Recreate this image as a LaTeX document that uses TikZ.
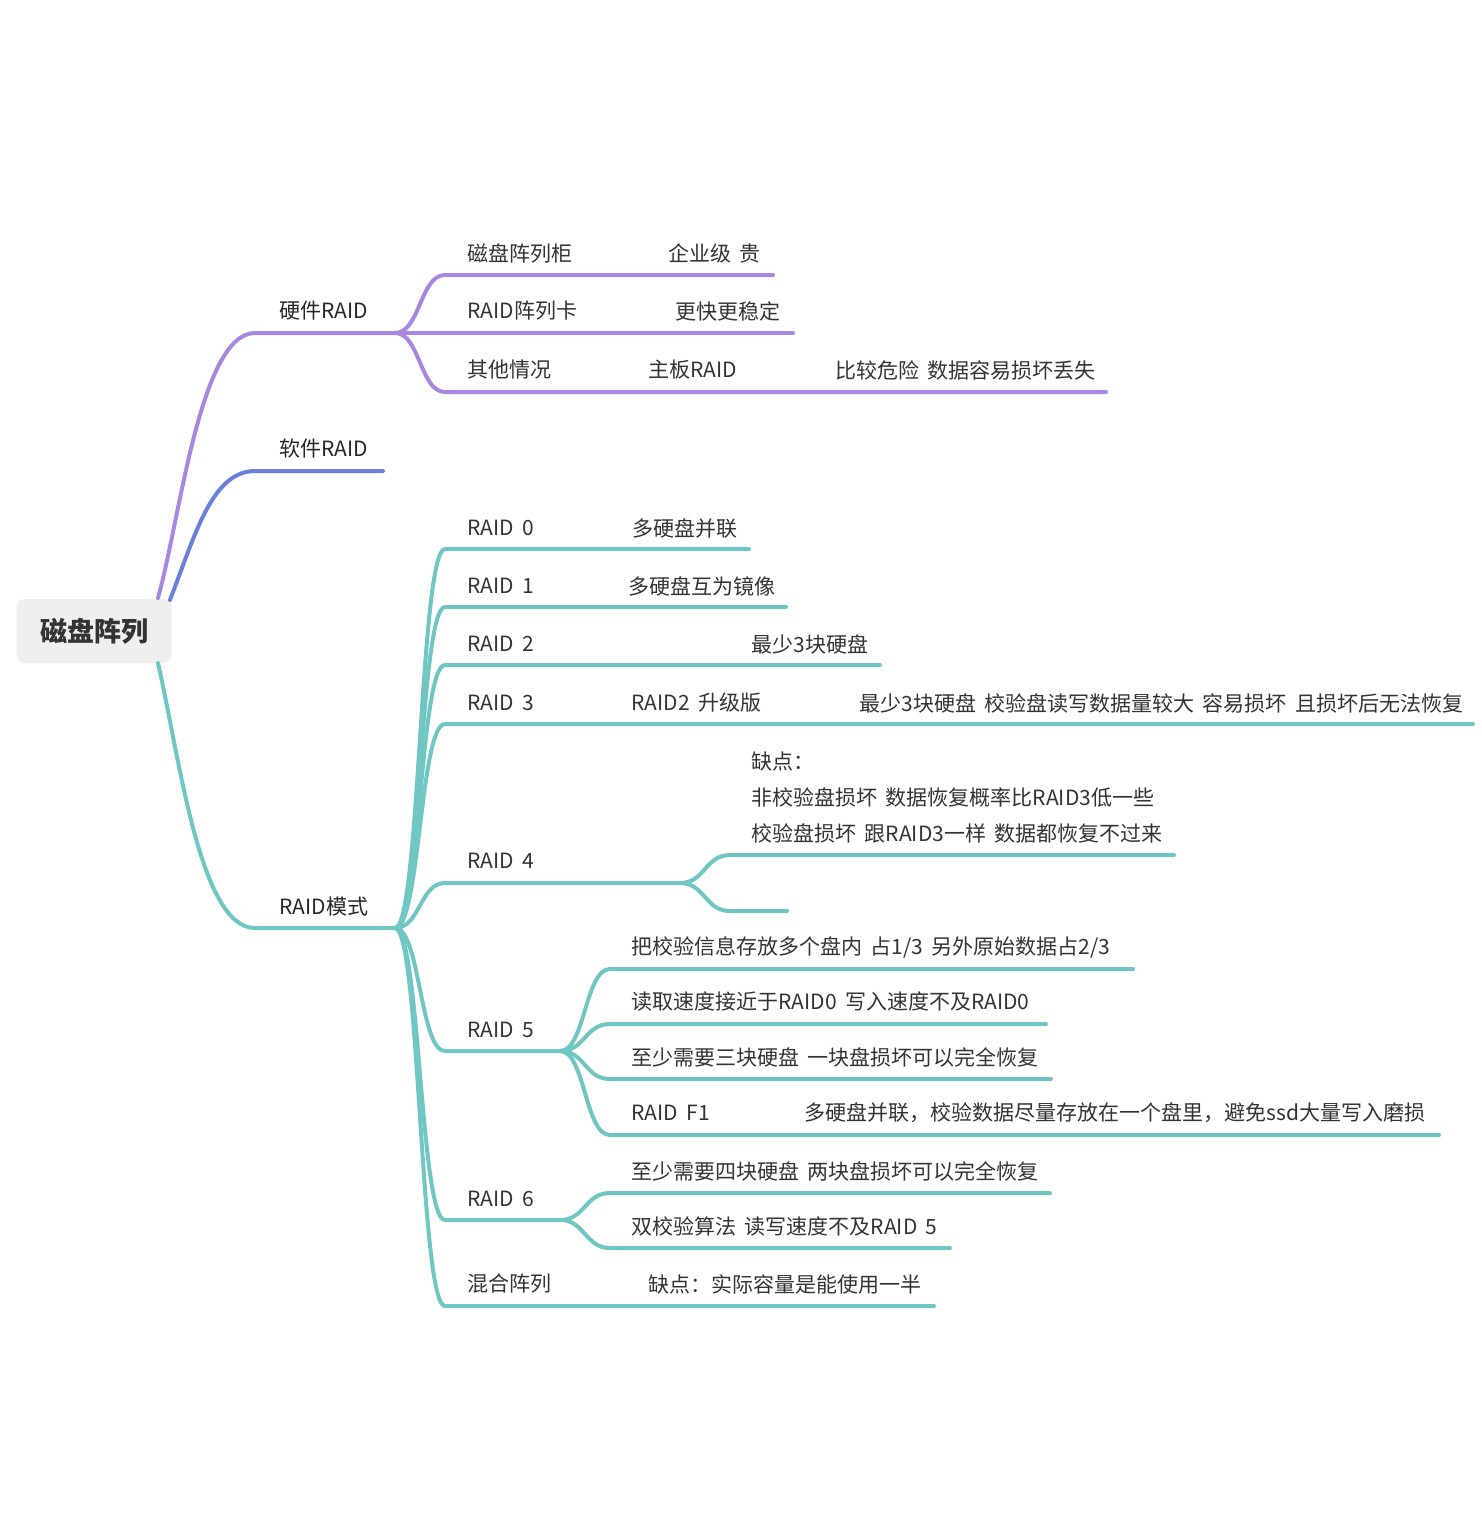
\documentclass[tikz,border=0pt]{standalone}
\usepackage{fontspec}
\setmainfont[WordSpace=1.8]{Noto Sans CJK SC}
\definecolor{pur}{HTML}{A888DF}
\definecolor{blu}{HTML}{6A80DB}
\definecolor{tea}{HTML}{6FC6C2}
\definecolor{txt}{HTML}{333333}
\definecolor{rootfill}{HTML}{EEF0EF}
\tikzset{
  lbl/.style={anchor=west, inner sep=0pt, text=txt, font=\fontsize{10.5pt}{12pt}\selectfont},
  toplbl/.style={lbl, text=black!85},
  rootbox/.style={fill=rootfill, rounded corners=4pt, minimum width=77.5pt, minimum height=32pt, inner sep=0pt, text=txt, font=\fontsize{13.5pt}{16pt}\selectfont\bfseries},
  br/.style={line width=2pt, line cap=round},
}
\begin{document}
\begin{tikzpicture}[x=0.5pt,y=-0.5pt]
\useasboundingbox (0,0) rectangle (1482,1538);
% root
\node[rootbox] (root) at (94,631) {磁盘阵列};
% named points
\coordinate (pS) at (158,598);
\coordinate (bS) at (170,600);
\coordinate (tS) at (158,663);
\coordinate (hA) at (255,333); \coordinate (H) at (395,333);
\coordinate (sA) at (255,471); \coordinate (sE) at (383,471);
\coordinate (mA) at (255,928); \coordinate (M) at (395,928);
% level 1
\draw[br,pur] (pS) .. controls (180,520) and (200,333) .. (hA) -- (H);
\draw[br,blu] (bS) .. controls (195,535) and (212,471) .. (sA) -- (sE);
\draw[br,tea] (tS) .. controls (180,760) and (200,928) .. (mA) -- (M);
\node[toplbl] (hw) at (279,311) {硬件RAID};
\node[toplbl] (sw) at (279,449) {软件RAID};
\node[toplbl] (md) at (279,907) {RAID模式};
% hardware children
\coordinate (h1a) at (445,275); \coordinate (h1e) at (773,275);
\coordinate (h2e) at (793,333);
\coordinate (h3a) at (445,392); \coordinate (h3e) at (1106,392);
\draw[br,pur] (H) .. controls (420,333) and (420,275) .. (h1a) -- (h1e);
\draw[br,pur] (H) -- (h2e);
\draw[br,pur] (H) .. controls (420,333) and (420,392) .. (h3a) -- (h3e);
\node[lbl] (h1) at (467,253) {磁盘阵列柜};
\node[lbl] (h1b) at (668,253) {企业级 贵};
\node[lbl] (h2) at (467,311) {RAID阵列卡};
\node[lbl] (h2b) at (675,311) {更快更稳定};
\node[lbl] (h3) at (467,370) {其他情况};
\node[lbl] (h3b) at (648,370) {主板RAID};
\node[lbl] (h3c) at (835,370) {比较危险 数据容易损坏丢失};
% RAID mode children
\foreach \n/\y/\e in {r0/549/749, r1/607/786, r2/665/880, r3/724/1473, r7/1306/934}{
  \coordinate (\n a) at (445,\y); \coordinate (\n e) at (\e,\y);
  \draw[br,tea] (M) .. controls (420,928) and (420,\y) .. (\n a) -- (\n e);
}
\coordinate (r4a) at (445,883); \coordinate (F4) at (680,883);
\coordinate (r5a) at (445,1051); \coordinate (F5) at (560,1051);
\coordinate (r6a) at (445,1220); \coordinate (F6) at (560,1220);
\draw[br,tea] (M) .. controls (420,928) and (420,883) .. (r4a) -- (F4);
\draw[br,tea] (M) .. controls (420,928) and (420,1051) .. (r5a) -- (F5);
\draw[br,tea] (M) .. controls (420,928) and (420,1220) .. (r6a) -- (F6);
\node[lbl] (t0) at (467,528) {RAID 0};
\node[lbl] (t0b) at (632,528) {多硬盘并联};
\node[lbl] (t1) at (467,586) {RAID 1};
\node[lbl] (t1b) at (628,586) {多硬盘互为镜像};
\node[lbl] (t2) at (467,644) {RAID 2};
\node[lbl] (t2b) at (751,644) {最少3块硬盘};
\node[lbl] (t3) at (467,703) {RAID 3};
\node[lbl] (t3b) at (631,703) {RAID2 升级版};
\node[lbl] (t3c) at (859,703) {最少3块硬盘 校验盘读写数据量较大 容易损坏 且损坏后无法恢复};
\node[lbl] (t4) at (467,861) {RAID 4};
\node[lbl] (t5) at (467,1030) {RAID 5};
\node[lbl] (t6) at (467,1199) {RAID 6};
\node[lbl] (t7) at (467,1284) {混合阵列};
\node[lbl] (t7b) at (648,1284) {缺点：实际容量是能使用一半};
% RAID 4 sub
\coordinate (r41a) at (730,855); \coordinate (r41e) at (1174,855);
\coordinate (r42a) at (730,911); \coordinate (r42e) at (787,911);
\draw[br,tea] (F4) .. controls (705,883) and (705,855) .. (r41a) -- (r41e);
\draw[br,tea] (F4) .. controls (705,883) and (705,911) .. (r42a) -- (r42e);
\node[lbl, align=left, font=\fontsize{10.5pt}{18pt}\selectfont] (t41) at (751,798) {缺点：\\非校验盘损坏 数据恢复概率比RAID3低一些\\校验盘损坏 跟RAID3一样 数据都恢复不过来};
% RAID 5 sub
\foreach \n/\y/\e in {r51/969/1133, r52/1024/1046, r53/1079/1051, r54/1135/1439}{
  \coordinate (\n a) at (610,\y); \coordinate (\n e) at (\e,\y);
  \draw[br,tea] (F5) .. controls (585,1051) and (585,\y) .. (\n a) -- (\n e);
}
\node[lbl] (t51) at (631,947) {把校验信息存放多个盘内 占1/3 另外原始数据占2/3};
\node[lbl] (t52) at (631,1002) {读取速度接近于RAID0 写入速度不及RAID0};
\node[lbl] (t53) at (631,1057) {至少需要三块硬盘 一块盘损坏可以完全恢复};
\node[lbl] (t54) at (631,1113) {RAID F1};
\node[lbl] (t54b) at (804,1113) {多硬盘并联，校验数据尽量存放在一个盘里，避免ssd大量写入磨损};
% RAID 6 sub
\foreach \n/\y/\e in {r61/1193/1050, r62/1248/950}{
  \coordinate (\n a) at (610,\y); \coordinate (\n e) at (\e,\y);
  \draw[br,tea] (F6) .. controls (585,1220) and (585,\y) .. (\n a) -- (\n e);
}
\node[lbl] (t61) at (631,1171) {至少需要四块硬盘 两块盘损坏可以完全恢复};
\node[lbl] (t62) at (631,1226) {双校验算法 读写速度不及RAID 5};
\end{tikzpicture}
\end{document}
